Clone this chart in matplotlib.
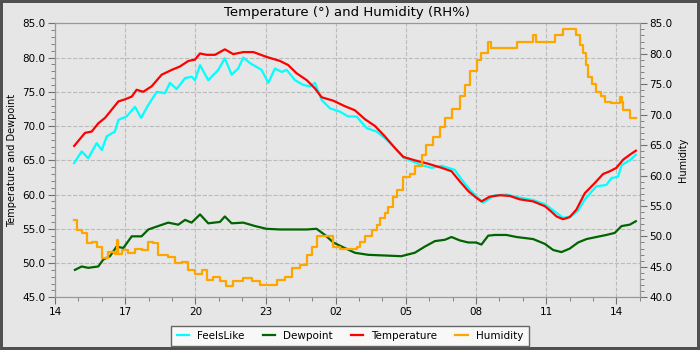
import datetime as dt
import matplotlib
matplotlib.use("Agg")
import matplotlib.pyplot as plt
import matplotlib.dates as mdates

# hours after 14:00 on the first day
temp_h = [0.82, 1.28, 1.57, 1.85, 2.14, 2.71, 2.99, 3.28, 3.49, 3.77, 4.13, 4.56, 4.99, 5.34, 5.70, 5.98,
          6.20, 6.48, 6.84, 7.26, 7.62, 8.05, 8.48, 9.04, 9.62, 9.97, 10.33, 10.76, 11.11, 11.40, 11.90,
          12.39, 12.82, 13.25, 13.68, 14.10, 14.53, 14.89, 15.38, 15.95, 16.53, 16.95, 17.31, 17.67,
          18.02, 18.23, 18.59, 19.02, 19.44, 19.87, 20.44, 20.94, 21.22, 21.44, 21.72, 22.00, 22.29,
          22.65, 23.08, 23.43, 23.72, 24.00, 24.29, 24.57, 24.83]
temperature = [67.1, 69.0, 69.2, 70.4, 71.2, 73.6, 73.9, 74.3, 75.3, 75.0, 75.8, 77.5, 78.2, 78.7, 79.5, 79.7,
               80.6, 80.4, 80.4, 81.2, 80.5, 80.8, 80.8, 80.1, 79.5, 78.9, 77.7, 76.7, 75.5, 74.2, 73.7,
               72.9, 72.3, 71.0, 70.0, 68.5, 66.8, 65.5, 65.0, 64.5, 63.9, 63.4, 61.9, 60.5,
               59.5, 59.0, 59.7, 59.9, 59.8, 59.3, 59.0, 58.3, 57.5, 56.8, 56.4, 56.7, 57.8,
               60.2, 61.7, 63.0, 63.4, 63.9, 65.1, 65.8, 66.4]

feels_h = [0.82, 1.14, 1.42, 1.78, 2.00, 2.21, 2.56, 2.71, 3.06, 3.42, 3.68, 3.99, 4.35, 4.70, 4.91, 5.20,
           5.56, 5.84, 5.98, 6.20, 6.55, 6.98, 7.26, 7.55, 7.83, 8.05, 8.33, 8.83, 9.12, 9.40, 9.69, 9.90,
           10.26, 10.61, 10.90, 11.11, 11.40, 11.75, 12.18, 12.53, 12.89, 13.32, 13.75, 14.18, 14.53,
           14.89, 15.67, 16.10, 16.53, 17.09, 17.38, 17.74, 18.30, 18.80, 19.30, 19.80, 20.44, 20.94,
           21.30, 21.72, 22.05, 22.35, 22.65, 23.14, 23.57, 23.79, 24.07, 24.22, 24.57, 24.83]
feels_like = [64.6, 66.3, 65.3, 67.5, 66.5, 68.5, 69.2, 70.9, 71.4, 72.8, 71.2, 73.1, 75.0, 74.8, 76.3, 75.4,
              77.0, 77.2, 76.7, 78.9, 76.7, 78.2, 79.9, 77.5, 78.4, 80.0, 79.2, 78.2, 76.3, 78.4, 77.9, 78.2,
              76.7, 76.0, 75.8, 76.3, 73.8, 72.6, 72.1, 71.4, 71.4, 69.7, 69.2, 68.0, 66.8,
              65.4, 64.3, 63.9, 64.2, 63.6, 62.2, 60.7, 58.8, 59.9, 60.0, 59.6, 59.2, 58.6,
              57.7, 56.6, 56.8, 57.6, 59.3, 61.2, 61.4, 62.4, 62.6, 64.3, 65.0, 65.8]

dew_h = [0.85, 1.14, 1.42, 1.85, 2.06, 2.35, 2.63, 2.92, 3.28, 3.70, 3.99, 4.41, 4.84, 5.27, 5.56, 5.84,
         6.20, 6.55, 7.05, 7.26, 7.55, 8.05, 8.55, 9.04, 9.62, 10.19, 10.76, 11.18, 11.54, 11.90, 12.32,
         12.82, 13.39, 14.10, 14.80, 15.38, 15.81, 16.24, 16.67, 16.95, 17.31, 17.67, 18.00, 18.23,
         18.52, 18.80, 19.30, 19.73, 20.44, 20.94, 21.30, 21.65, 22.00, 22.36, 22.72, 23.14, 23.57,
         23.93, 24.22, 24.57, 24.83]
dewpoint = [49.0, 49.5, 49.3, 49.5, 50.5, 51.0, 52.4, 52.2, 53.9, 53.9, 54.9, 55.4, 55.9, 55.6, 56.3, 55.9,
            57.1, 55.8, 56.0, 56.8, 55.8, 55.9, 55.4, 55.0, 54.9, 54.9, 54.9, 55.0, 54.1, 53.0, 52.3,
            51.5, 51.2, 51.1, 51.0, 51.5, 52.4, 53.2, 53.4, 53.8, 53.3, 53.0, 53.0, 52.7,
            54.0, 54.1, 54.1, 53.8, 53.5, 52.8, 51.9, 51.6, 52.1, 53.0, 53.5, 53.8, 54.1,
            54.4, 55.4, 55.6, 56.1]

hum_h = [0.82, 0.95, 1.14, 1.35, 1.57, 1.78, 2.00, 2.28, 2.56, 2.63, 2.70, 2.85, 3.13, 3.42, 3.70, 3.99,
         4.20, 4.41, 4.84, 5.13, 5.41, 5.70, 5.98, 6.27, 6.48, 6.77, 7.05, 7.33, 7.62, 8.05, 8.40, 8.76,
         9.04, 9.47, 9.83, 10.12, 10.47, 10.76, 10.97, 11.18, 11.54, 11.90, 12.18, 12.89, 13.03,
         13.25, 13.53, 13.75, 13.89, 14.10, 14.25, 14.46, 14.60, 14.89, 15.17, 15.38, 15.67, 15.88,
         16.17, 16.45, 16.67, 16.95, 17.31, 17.52, 17.74, 18.02, 18.23, 18.52, 18.66, 19.73, 20.44,
         20.58, 21.37, 21.72, 22.26, 22.44, 22.58, 22.72, 22.79, 22.94, 23.14, 23.36, 23.50, 23.79,
         24.15, 24.22, 24.29, 24.57, 24.83]
humidity = [52.7, 51.1, 50.5, 48.9, 49.0, 48.3, 46.4, 47.5, 47.1, 49.4, 47.1, 47.8, 47.2, 48.0, 47.8, 49.1,
            48.9, 46.9, 46.6, 45.6, 45.8, 44.5, 43.9, 44.5, 42.9, 43.4, 42.6, 41.8, 42.6, 43.1, 42.6, 42.0,
            42.0, 42.8, 43.4, 44.8, 45.3, 46.9, 48.3, 50.0, 50.0, 48.3, 48.0, 48.3, 49.1,
            50.1, 51.1, 51.9, 53.0, 53.9, 54.9, 56.5, 57.6, 59.8, 60.3, 61.5, 63.4, 65.0,
            66.4, 68.0, 69.4, 71.0, 73.0, 74.9, 77.1, 79.0, 80.1, 82.0, 81.0, 82.0, 83.0,
            82.0, 83.0, 84.0, 83.0, 81.4, 80.1, 78.2, 76.2, 75.1, 73.8, 73.0, 72.1, 71.9,
            72.9, 72.0, 70.8, 69.4, 69.4]

start = dt.datetime(2023, 6, 1, 14, 0)
def to_time(hours):
    return [start + dt.timedelta(hours=h) for h in hours]

bg = '#e6e6e6'
plt.rcParams['font.family'] = 'DejaVu Sans'
plt.rcParams['font.size'] = 7.5

fig = plt.figure(figsize=(7, 3.5), dpi=100, facecolor=bg, edgecolor='#505050', linewidth=3)
ax = fig.add_axes([0.0786, 0.1506, 0.8354, 0.7828])
ax.set_facecolor(bg)
ax2 = ax.twinx()

l1, = ax.plot(to_time(feels_h), feels_like, color='#00ffff', lw=1.6, label='FeelsLike')
l2, = ax.plot(to_time(dew_h), dewpoint, color='#006400', lw=1.6, label='Dewpoint')
l3, = ax.plot(to_time(temp_h), temperature, color='#ff0000', lw=1.6, label='Temperature')
l4, = ax2.plot(to_time(hum_h), humidity, color='#ffa500', lw=1.6, drawstyle='steps-post', label='Humidity')

ax.set_xlim(start, start + dt.timedelta(hours=25))
ax.set_ylim(45, 85)
ax2.set_ylim(40, 85)
ax.set_yticks(range(45, 86, 5))
ax2.set_yticks(range(40, 86, 5))
ax.yaxis.set_major_formatter(matplotlib.ticker.FormatStrFormatter('%.1f'))
ax2.yaxis.set_major_formatter(matplotlib.ticker.FormatStrFormatter('%.1f'))
ax.yaxis.set_minor_locator(matplotlib.ticker.MultipleLocator(1))
ax2.yaxis.set_minor_locator(matplotlib.ticker.MultipleLocator(1))
ax.xaxis.set_major_locator(mdates.HourLocator(byhour=[2, 5, 8, 11, 14, 17, 20, 23]))
ax.xaxis.set_minor_locator(mdates.HourLocator())
ax.xaxis.set_major_formatter(mdates.DateFormatter('%H'))

for a in (ax, ax2):
    a.tick_params(which='major', direction='out', length=5, color='#707070', labelsize=7.5, pad=2)
    a.tick_params(which='minor', direction='out', length=3, color='#707070')
    for s in a.spines.values():
        s.set_color('#999999')

ax.grid(True, which='major', color='#bbbbbb', linestyle='--', linewidth=0.8)
ax.set_ylabel('Temperature and Dewpoint', fontsize=7)
ax2.set_ylabel('Humidity', fontsize=7)
ax.set_title('Temperature (°) and Humidity (RH%)', fontsize=9.5, pad=5)

leg = fig.legend(handles=[l1, l2, l3, l4], loc='center', bbox_to_anchor=(0.5, 0.04), ncol=4,
                 fontsize=7.5, fancybox=False, framealpha=1, edgecolor='#666666',
                 handlelength=1.2, columnspacing=1.7, borderpad=0.5)
leg.get_frame().set_facecolor('#f8f8f8')

fig.savefig('out.png', dpi=100, facecolor=fig.get_facecolor(), edgecolor=fig.get_edgecolor())
